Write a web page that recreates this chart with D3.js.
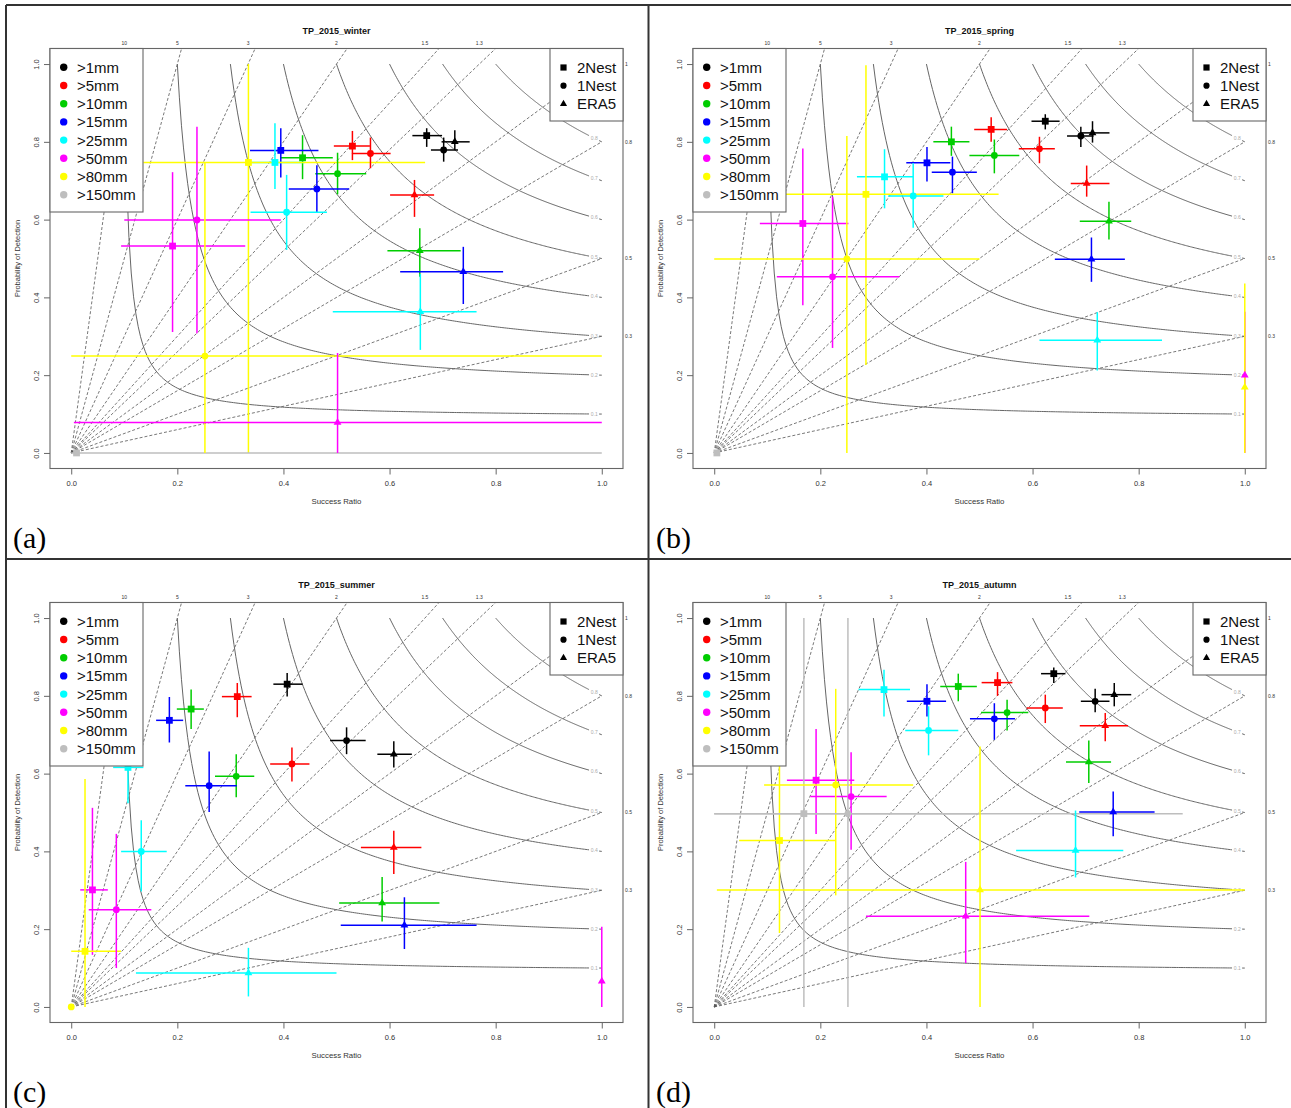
<!DOCTYPE html>
<html><head><meta charset="utf-8">
<script src="https://cdn.jsdelivr.net/npm/d3@7"></script>
<style>body{margin:0;background:#fff}svg{display:block}</style>
</head><body>
<svg id="chart" width="1291" height="1108"></svg>
<script>
// ---------------- data ----------------
const thresholds = [">1mm", ">5mm", ">10mm", ">15mm", ">25mm", ">50mm", ">80mm", ">150mm"];
const models = ["2Nest", "1Nest", "ERA5"];
const seasons = ["TP_2015_winter", "TP_2015_spring", "TP_2015_summer", "TP_2015_autumn"];
const panelLabels = ["(a)", "(b)", "(c)", "(d)"];
const biasTop = [10, 5, 3, 2, 1.5, 1.3];
const biasRight = [1, 0.8, 0.5, 0.3];
const csiLevels = [0.1, 0.2, 0.3, 0.4, 0.5, 0.6, 0.7, 0.8];
const axisTicks = [0, 0.2, 0.4, 0.6, 0.8, 1.0];

// rows per threshold: [SR, POD, SR_low, SR_high, POD_low, POD_high]
const winter2Nest = [
  [0.670, 0.816, 0.643, 0.699, 0.787, 0.835],
  [0.530, 0.789, 0.495, 0.563, 0.753, 0.828],
  [0.436, 0.759, 0.394, 0.493, 0.704, 0.817],
  [0.395, 0.778, 0.337, 0.466, 0.708, 0.835],
  [0.384, 0.747, 0.330, 0.440, 0.679, 0.848],
  [0.191, 0.532, 0.094, 0.328, 0.311, 0.722],
  [0.334, 0.747, 0.136, 0.667, 0.000, 1.000],
  [0.010, 0.000, 0.000, 1.000, 0.000, 0.000]
];
const winter1Nest = [
  [0.702, 0.779, 0.678, 0.729, 0.749, 0.811],
  [0.564, 0.770, 0.529, 0.602, 0.732, 0.811],
  [0.502, 0.718, 0.460, 0.556, 0.665, 0.772],
  [0.463, 0.679, 0.410, 0.524, 0.617, 0.740],
  [0.406, 0.619, 0.338, 0.482, 0.522, 0.715],
  [0.237, 0.599, 0.100, 0.395, 0.308, 0.839],
  [0.252, 0.249, 0.000, 1.000, 0.000, 0.747],
  null
];
const winterERA5 = [
  [0.723, 0.800, 0.698, 0.751, 0.779, 0.830],
  [0.647, 0.663, 0.601, 0.684, 0.607, 0.702],
  [0.657, 0.520, 0.596, 0.734, 0.453, 0.578],
  [0.739, 0.466, 0.620, 0.814, 0.383, 0.530],
  [0.658, 0.363, 0.493, 0.764, 0.265, 0.460],
  [0.502, 0.078, 0.005, 1.000, 0.000, 0.257],
  null,
  null
];
const spring2Nest = [
  [0.624, 0.853, 0.598, 0.651, 0.832, 0.871],
  [0.522, 0.832, 0.490, 0.552, 0.800, 0.863],
  [0.447, 0.800, 0.413, 0.481, 0.764, 0.839],
  [0.401, 0.746, 0.362, 0.445, 0.698, 0.787],
  [0.321, 0.710, 0.269, 0.375, 0.629, 0.781],
  [0.167, 0.590, 0.086, 0.253, 0.380, 0.783],
  [0.286, 0.665, 0.100, 0.536, 0.226, 0.997],
  [0.005, 0.000, 0.005, 0.005, 0.000, 0.000]
];
const spring1Nest = [
  [0.691, 0.815, 0.665, 0.715, 0.787, 0.839],
  [0.613, 0.782, 0.574, 0.642, 0.745, 0.813],
  [0.528, 0.765, 0.481, 0.575, 0.719, 0.806],
  [0.449, 0.722, 0.410, 0.495, 0.668, 0.762],
  [0.375, 0.661, 0.328, 0.432, 0.579, 0.745],
  [0.223, 0.453, 0.118, 0.349, 0.270, 0.659],
  [0.250, 0.499, 0.000, 0.500, 0.000, 0.815],
  null
];
const springERA5 = [
  [0.713, 0.823, 0.690, 0.745, 0.798, 0.853],
  [0.702, 0.693, 0.672, 0.745, 0.659, 0.739],
  [0.744, 0.596, 0.689, 0.786, 0.549, 0.646],
  [0.711, 0.498, 0.642, 0.774, 0.440, 0.554],
  [0.722, 0.290, 0.613, 0.844, 0.212, 0.362],
  [1.000, 0.200, 1.000, 1.000, 0.000, 0.363],
  [1.000, 0.169, 1.000, 1.000, 0.000, 0.436],
  null
];
const summer2Nest = [
  [0.407, 0.830, 0.381, 0.436, 0.798, 0.859],
  [0.313, 0.798, 0.284, 0.340, 0.745, 0.833],
  [0.226, 0.766, 0.199, 0.250, 0.715, 0.816],
  [0.185, 0.737, 0.160, 0.211, 0.680, 0.797],
  [0.107, 0.616, 0.079, 0.136, 0.524, 0.700],
  [0.040, 0.301, 0.017, 0.069, 0.134, 0.512],
  [0.026, 0.143, 0.000, 0.094, 0.000, 0.586],
  null
];
const summer1Nest = [
  [0.519, 0.685, 0.488, 0.555, 0.650, 0.719],
  [0.416, 0.625, 0.375, 0.449, 0.580, 0.667],
  [0.311, 0.593, 0.271, 0.345, 0.539, 0.650],
  [0.260, 0.569, 0.215, 0.312, 0.501, 0.657],
  [0.132, 0.400, 0.094, 0.180, 0.297, 0.480],
  [0.085, 0.250, 0.033, 0.151, 0.100, 0.445],
  [0.000, 0.000, 0.000, 0.000, 0.000, 0.000],
  null
];
const summerERA5 = [
  [0.608, 0.650, 0.577, 0.642, 0.616, 0.683],
  [0.608, 0.410, 0.546, 0.660, 0.342, 0.453],
  [0.586, 0.267, 0.505, 0.694, 0.220, 0.334],
  [0.628, 0.210, 0.508, 0.764, 0.149, 0.282],
  [0.334, 0.087, 0.122, 0.500, 0.027, 0.152],
  [1.000, 0.066, 1.000, 1.000, 0.000, 0.206],
  null,
  null
];
const autumn2Nest = [
  [0.640, 0.857, 0.616, 0.662, 0.833, 0.873],
  [0.534, 0.834, 0.504, 0.562, 0.800, 0.861],
  [0.460, 0.824, 0.426, 0.495, 0.786, 0.857],
  [0.401, 0.786, 0.363, 0.437, 0.747, 0.830],
  [0.320, 0.816, 0.272, 0.369, 0.747, 0.867],
  [0.192, 0.583, 0.137, 0.264, 0.445, 0.715],
  [0.123, 0.428, 0.047, 0.228, 0.190, 0.650],
  [0.169, 0.497, 0.000, 0.500, 0.000, 1.000]
];
const autumn1Nest = [
  [0.718, 0.786, 0.691, 0.745, 0.758, 0.818],
  [0.624, 0.769, 0.589, 0.657, 0.730, 0.803],
  [0.552, 0.757, 0.503, 0.592, 0.711, 0.790],
  [0.528, 0.741, 0.482, 0.567, 0.687, 0.781],
  [0.404, 0.711, 0.360, 0.460, 0.647, 0.773],
  [0.258, 0.541, 0.181, 0.325, 0.404, 0.655],
  [0.229, 0.571, 0.094, 0.375, 0.287, 0.818],
  [0.252, 0.497, 0.000, 0.883, 0.000, 1.000]
];
const autumnERA5 = [
  [0.754, 0.803, 0.730, 0.786, 0.773, 0.833],
  [0.737, 0.723, 0.689, 0.780, 0.683, 0.756],
  [0.706, 0.630, 0.663, 0.748, 0.576, 0.685],
  [0.752, 0.501, 0.688, 0.830, 0.439, 0.554],
  [0.681, 0.402, 0.569, 0.771, 0.333, 0.505],
  [0.474, 0.233, 0.286, 0.707, 0.113, 0.373],
  [0.501, 0.301, 0.005, 1.000, 0.000, 0.670],
  null
];

const seasonData = [
  [winter2Nest, winter1Nest, winterERA5],
  [spring2Nest, spring1Nest, springERA5],
  [summer2Nest, summer1Nest, summerERA5],
  [autumn2Nest, autumn1Nest, autumnERA5]
];

// ---------------- styles ----------------
const thresholdColors = ["#000000", "#FF0000", "#00CD00", "#0000FF", "#00FFFF", "#FF00FF", "#FFFF00", "#BEBEBE"];
const SANS = "'Liberation Sans', Arial, Helvetica, sans-serif";
const SERIF = "'Liberation Serif', 'Times New Roman', serif";
const offsets = [[0, 0], [643, 0], [0, 554], [643, 554]];

const svg = d3.select("#chart");
svg.append("rect").attr("width", 1291).attr("height", 1108).attr("fill", "#fff");

function symbolPath(model, size) {
  if (model === 0) { const h = size / 2; return `M${-h},${-h}H${h}V${h}H${-h}Z`; }
  if (model === 1) { const r = size / 2; return `M${r},0A${r},${r} 0 1,1 ${-r},0A${r},${r} 0 1,1 ${r},0Z`; }
  const s = size * 1.15, r = s / Math.sqrt(3), b = r / 2;
  return `M0,${-r}L${s / 2},${b}L${-s / 2},${b}Z`;
}

seasons.forEach((title, p) => {
  const [ox, oy] = offsets[p];
  const g = svg.append("g");
  const x = d3.scaleLinear().domain([-0.04, 1.04]).range([50 + ox, 623 + ox]);
  const y = d3.scaleLinear().domain([-0.04, 1.04]).range([468.5 + oy, 48.5 + oy]);

  // frequency bias lines
  biasTop.concat(biasRight).forEach(b => {
    const endPod = Math.min(b, 1.04);
    const endSr = endPod / b;
    g.append("line")
      .attr("x1", x(0)).attr("y1", y(0)).attr("x2", x(endSr)).attr("y2", y(endPod))
      .attr("stroke", "#555").attr("stroke-width", 0.8).attr("stroke-dasharray", "3,2");
  });
  biasTop.forEach(b => {
    g.append("text").attr("x", x(1 / b)).attr("y", oy + 45)
      .attr("text-anchor", "middle").attr("font-family", SANS).attr("font-size", 5).attr("fill", "#333")
      .text(b);
  });
  biasRight.forEach(b => {
    g.append("text").attr("x", ox + 625).attr("y", y(b) + 1.8)
      .attr("font-family", SANS).attr("font-size", 5).attr("fill", "#333")
      .text(b);
  });

  // CSI isolines
  const line = d3.line().x(d => x(d[0])).y(d => y(d[1]));
  const pod = (c, sr) => 1 / (1 / c + 1 - 1 / sr);
  csiLevels.forEach(c => {
    const seg1 = d3.range(0, 201).map(k => { const sr = c + (0.976 - c) * k / 200; return [sr, pod(c, sr)]; });
    const seg2 = [[0.995, pod(c, 0.995)], [1, pod(c, 1)]];
    [seg1, seg2].forEach(s => g.append("path").attr("d", line(s))
      .attr("fill", "none").attr("stroke", "#666").attr("stroke-width", 1));
    g.append("text").attr("x", x(0.986)).attr("y", y(pod(c, 0.986)) + 1.8)
      .attr("text-anchor", "middle").attr("font-family", SANS).attr("font-size", 5).attr("fill", "#aaa")
      .text(c);
  });

  // error bars
  const series = seasonData[p];
  series.forEach((rows, m) => {
    rows.forEach((r, t) => {
      if (!r) return;
      const col = thresholdColors[t];
      g.append("line").attr("x1", x(r[2])).attr("x2", x(r[3])).attr("y1", y(r[1])).attr("y2", y(r[1]))
        .attr("stroke", col).attr("stroke-width", 1.5);
      g.append("line").attr("x1", x(r[0])).attr("x2", x(r[0])).attr("y1", y(r[4])).attr("y2", y(r[5]))
        .attr("stroke", col).attr("stroke-width", 1.5);
    });
  });
  // points
  series.forEach((rows, m) => {
    rows.forEach((r, t) => {
      if (!r) return;
      g.append("path").attr("d", symbolPath(m, 6.8))
        .attr("transform", `translate(${x(r[0])},${y(r[1])})`)
        .attr("fill", thresholdColors[t]);
    });
  });

  // axes
  const styleAxis = a => {
    a.select(".domain").remove();
    a.attr("font-family", SANS).attr("font-size", 7.5);
    a.selectAll("line").attr("stroke", "#666");
    a.selectAll("text").attr("fill", "#333");
  };
  g.append("g").attr("transform", `translate(0,${468.5 + oy})`)
    .call(d3.axisBottom(x).tickValues(axisTicks).tickSize(6).tickPadding(6).tickFormat(d3.format(".1f")))
    .call(styleAxis);
  g.append("g").attr("transform", `translate(${50 + ox},0)`)
    .call(d3.axisLeft(y).tickValues(axisTicks).tickSize(6).tickFormat(d3.format(".1f")))
    .call(styleAxis)
    .call(a => a.selectAll("text").attr("transform", "rotate(-90)").attr("x", 0).attr("y", -11)
      .attr("dy", null).attr("text-anchor", "middle"));

  // plot box
  g.append("rect").attr("x", 50 + ox).attr("y", 48.5 + oy).attr("width", 573).attr("height", 420)
    .attr("fill", "none").attr("stroke", "#666").attr("stroke-width", 1.1);

  // titles
  g.append("text").attr("x", 336.5 + ox).attr("y", oy + 34).attr("text-anchor", "middle")
    .attr("font-family", SANS).attr("font-weight", "bold").attr("font-size", 9).attr("fill", "#111").text(title);
  g.append("text").attr("x", 336.5 + ox).attr("y", oy + 504).attr("text-anchor", "middle")
    .attr("font-family", SANS).attr("font-size", 7.8).attr("fill", "#333").text("Success Ratio");
  g.append("text").attr("transform", `translate(${ox + 20},${oy + 258.5}) rotate(-90)`).attr("text-anchor", "middle")
    .attr("font-family", SANS).attr("font-size", 7.5).attr("fill", "#333").text("Probability of Detection");

  // threshold legend
  const lg = g.append("g");
  lg.append("rect").attr("x", 50 + ox).attr("y", 48.5 + oy).attr("width", 93).attr("height", 163.5)
    .attr("fill", "#fff").attr("stroke", "#666").attr("stroke-width", 1.1);
  thresholds.forEach((t, i) => {
    const cy = oy + 67.3 + 18.2 * i;
    lg.append("circle").attr("cx", ox + 63.7).attr("cy", cy).attr("r", 3.7).attr("fill", thresholdColors[i]);
    lg.append("text").attr("x", ox + 77).attr("y", cy + 5.4).attr("font-family", SANS).attr("font-size", 15)
      .attr("fill", "#111").text(t);
  });
  // model legend
  const mg = g.append("g");
  mg.append("rect").attr("x", 550 + ox).attr("y", 48.5 + oy).attr("width", 73).attr("height", 72.5)
    .attr("fill", "#fff").attr("stroke", "#666").attr("stroke-width", 1.1);
  models.forEach((mname, i) => {
    const cy = oy + 67.5 + 18.2 * i;
    mg.append("path").attr("d", symbolPath(i, 6.2)).attr("transform", `translate(${ox + 563.5},${cy})`).attr("fill", "#000");
    mg.append("text").attr("x", ox + 577).attr("y", cy + 5.4).attr("font-family", SANS).attr("font-size", 15)
      .attr("fill", "#111").text(mname);
  });

  // panel label
  g.append("text").attr("x", ox + 13).attr("y", oy + 548).attr("font-family", SERIF).attr("font-size", 30)
    .attr("fill", "#000").text(panelLabels[p]);
});

// table frame
const frame = svg.append("g").attr("stroke", "#333").attr("stroke-width", 2);
frame.append("line").attr("x1", 6).attr("x2", 6).attr("y1", 5).attr("y2", 1108);
frame.append("line").attr("x1", 6).attr("x2", 1291).attr("y1", 5).attr("y2", 5);
frame.append("line").attr("x1", 648.5).attr("x2", 648.5).attr("y1", 5).attr("y2", 1108);
frame.append("line").attr("x1", 6).attr("x2", 1291).attr("y1", 559).attr("y2", 559);
</script>
</body></html>
